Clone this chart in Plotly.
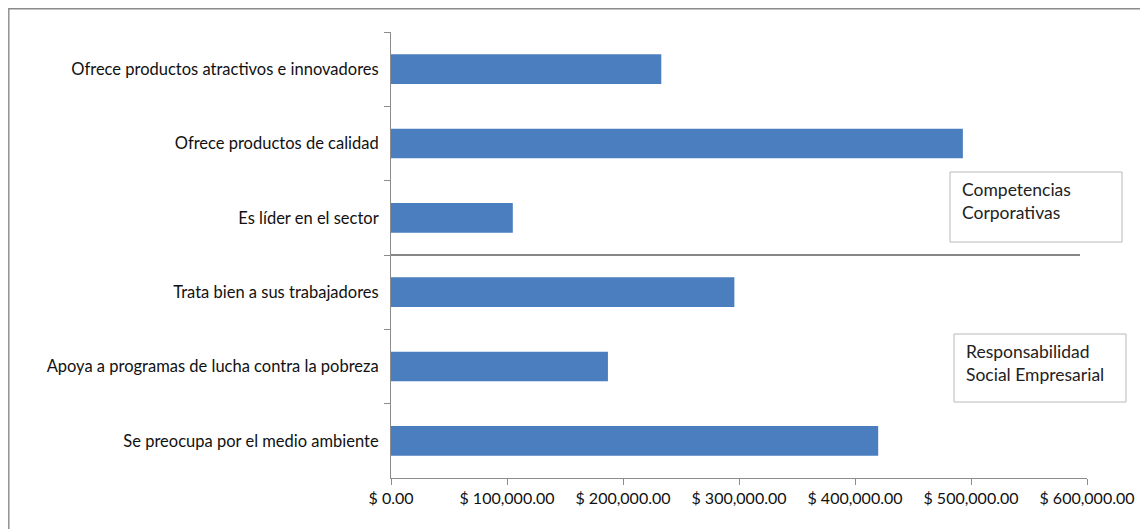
import plotly.graph_objects as go

categories = [
    "Ofrece productos atractivos e innovadores",
    "Ofrece productos de calidad",
    "Es líder en el sector",
    "Trata bien a sus trabajadores",
    "Apoya a programas de lucha contra la pobreza",
    "Se preocupa por el medio ambiente",
]
values = [233000, 493000, 105000, 296000, 187000, 420000]
x_ticks = [0, 100000, 200000, 300000, 400000, 500000, 600000]
x_tick_text = ["$ {:,.2f}".format(v) for v in x_ticks]
group_labels = ["Competencias<br>Corporativas", "Responsabilidad<br>Social Empresarial"]

FONT = "Lato"
OFF = 8  # page body margin
L, R, T, B = 391 - OFF, 1087 - OFF, 32 - OFF, 478 - OFF
W, H = 1148 - OFF, 529 - OFF

def px(xp):
    return (xp - OFF - L) / (R - L)

def py(yp):
    return (B - (yp - OFF)) / (B - T)

fig = go.Figure(go.Bar(
    x=values, y=categories, orientation="h",
    marker=dict(color="#4A7EBF", line=dict(width=0)),
    width=0.4,
))

shapes = [
    dict(type="rect", xref="paper", yref="paper", x0=px(8.8), x1=px(1170), y0=py(560), y1=py(8.8),
         line=dict(color="#8a8a8a", width=1.4), fillcolor="rgba(0,0,0,0)", layer="below"),
    dict(type="line", xref="x", yref="y", x0=0, x1=594000, y0=2.5, y1=2.5,
         line=dict(color="#111111", width=1.2)),
    dict(type="rect", xref="paper", yref="paper", x0=px(950), x1=px(1122), y0=py(242), y1=py(172),
         line=dict(color="#b8b8b8", width=1), fillcolor="white"),
    dict(type="rect", xref="paper", yref="paper", x0=px(954), x1=px(1126), y0=py(402), y1=py(334),
         line=dict(color="#b8b8b8", width=1), fillcolor="white"),
]

annotations = [
    dict(xref="paper", yref="paper", x=px(960), y=py(201), text=group_labels[0],
         showarrow=False, xanchor="left", yanchor="middle", align="left",
         font=dict(family=FONT, size=17.5, color="#222")),
    dict(xref="paper", yref="paper", x=px(964), y=py(363), text=group_labels[1],
         showarrow=False, xanchor="left", yanchor="middle", align="left",
         font=dict(family=FONT, size=17.5, color="#222")),
]

fig.update_layout(
    width=W, height=H,
    margin=dict(l=L, r=W - R, t=T, b=H - B),
    paper_bgcolor="white", plot_bgcolor="white",
    showlegend=False,
    font=dict(family=FONT, size=16, color="#111"),
    shapes=shapes, annotations=annotations,
    xaxis=dict(range=[0, 600000], tickvals=x_ticks, ticktext=x_tick_text,
               showgrid=False, zeroline=False, showline=True, linecolor="#8c8c8c",
               ticks="outside", ticklen=6, tickcolor="#8c8c8c",
               tickfont=dict(family=FONT, size=16, color="#111")),
    yaxis=dict(autorange="reversed", showgrid=False, showline=True, linecolor="#8c8c8c",
               ticks="outside", ticklen=6, tickcolor="#8c8c8c", tickson="boundaries",
               ticklabelstandoff=8,
               tickfont=dict(family=FONT, size=16.5, color="#111")),
)

fig.write_html("out.html")
